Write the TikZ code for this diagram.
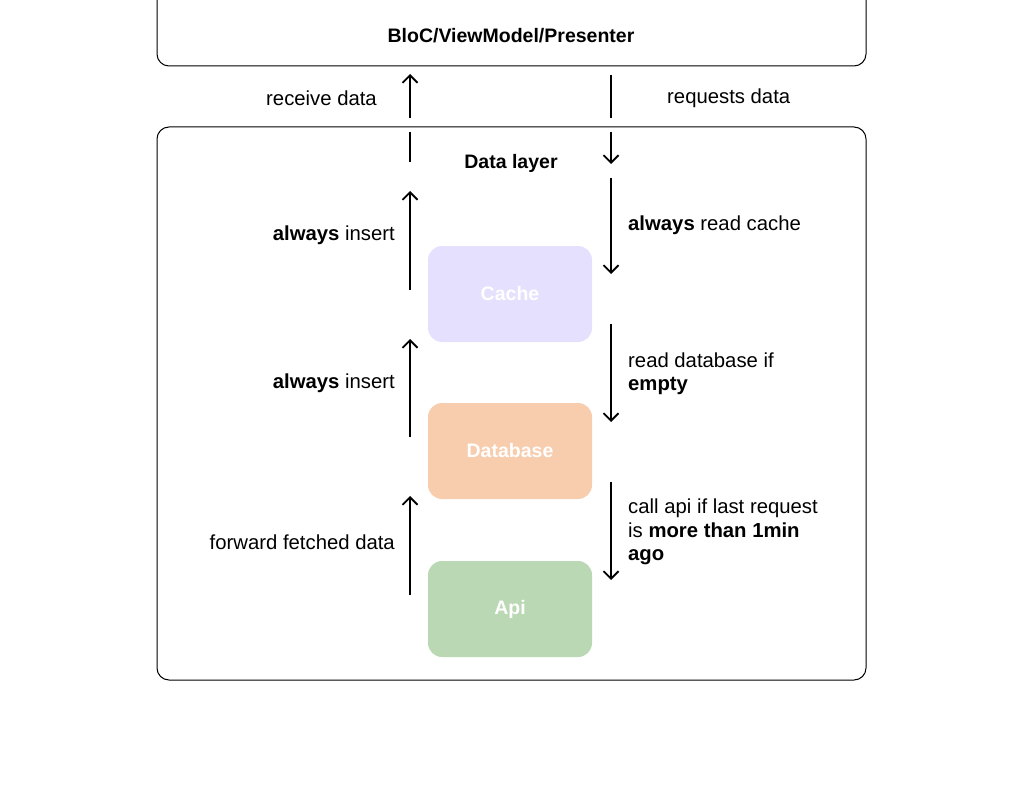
\documentclass[tikz,border=0pt]{standalone}
\usepackage{fontspec}
\setmainfont{Liberation Sans}
\usetikzlibrary{arrows.meta}
\definecolor{cachefill}{RGB}{229,224,253}
\definecolor{dbfill}{RGB}{248,205,173}
\definecolor{apifill}{RGB}{186,216,180}
\tikzset{
  layerbox/.style={draw=black, line width=1pt, rounded corners=12pt},
  storebox/.style={rounded corners=14pt, minimum width=164pt, minimum height=96pt, inner sep=0pt,
    text=white, font=\fontsize{19.5}{23.5}\selectfont\bfseries},
  flow/.style={line width=1.8pt, -{Straight Barb[length=7.5pt,width=15pt,line width=1.8pt]}},
  plainflow/.style={line width=1.8pt},
  lbl/.style={font=\fontsize{20.3}{23.5}\selectfont, inner sep=0pt, align=left},
  title/.style={font=\fontsize{19.5}{23.5}\selectfont\bfseries, inner sep=0pt}
}
\begin{document}
\begin{tikzpicture}[x=1pt,y=-1pt]
\useasboundingbox (0,0) rectangle (1024,786);
\begin{scope}
\clip (0,0) rectangle (1024,786);
% top box
\draw[layerbox] (157,-30) rectangle (866,66);
\node[title] (bloc) at (511,35.5) {BloC/ViewModel/Presenter};
% data layer box
\draw[layerbox] (157,127) rectangle (866,680);
\node[title] (dl) at (511,163.5) {Data layer};
\end{scope}
% stores
\node[storebox, fill=cachefill] (cache) at (510,294) {Cache};
\node[storebox, fill=dbfill] (db) at (510,451) {Database};
\node[storebox, fill=apifill] (api) at (510,609) {Api};
% coordinates
\coordinate (l1a) at (410,118); \coordinate (l1b) at (410,74);
\coordinate (l0a) at (410,162); \coordinate (l0b) at (410,132);
\coordinate (r1a) at (611,75); \coordinate (r1b) at (611,118);
\coordinate (r0a) at (611,132); \coordinate (r0b) at (611,164);
\coordinate (l2a) at (410,290); \coordinate (l2b) at (410,191);
\coordinate (r2a) at (611,178); \coordinate (r2b) at (611,274);
\coordinate (l3a) at (410,437); \coordinate (l3b) at (410,339);
\coordinate (r3a) at (611,324); \coordinate (r3b) at (611,422);
\coordinate (l4a) at (410,595); \coordinate (l4b) at (410,496);
\coordinate (r4a) at (611,482); \coordinate (r4b) at (611,580);
% arrows
\draw[plainflow] (l0a) -- (l0b);
\draw[flow] (l1a) -- (l1b);
\draw[plainflow] (r1a) -- (r1b);
\draw[flow] (r0a) -- (r0b);
\draw[flow] (l2a) -- (l2b);
\draw[flow] (r2a) -- (r2b);
\draw[flow] (l3a) -- (l3b);
\draw[flow] (r3a) -- (r3b);
\draw[flow] (l4a) -- (l4b);
\draw[flow] (r4a) -- (r4b);
% labels
\node[lbl, anchor=east] (t1) at (377,98.5) {receive data};
\node[lbl, anchor=west] (t2) at (667,98.5) {requests data};
\node[lbl, anchor=east] (t3) at (395,235.5) {\textbf{always} insert};
\node[lbl, anchor=west] (t4) at (628,225.5) {\textbf{always} read cache};
\node[lbl, anchor=east] (t5) at (395,383.5) {\textbf{always} insert};
\node[lbl, anchor=west] (t6) at (628,373.5) {read database if\\\textbf{empty}};
\node[lbl, anchor=east] (t7) at (395,542.5) {forward fetched data};
\node[lbl, anchor=west] (t8) at (628,532) {call api if last request\\is \textbf{more than 1min}\\\textbf{ago}};
\end{tikzpicture}
\end{document}
